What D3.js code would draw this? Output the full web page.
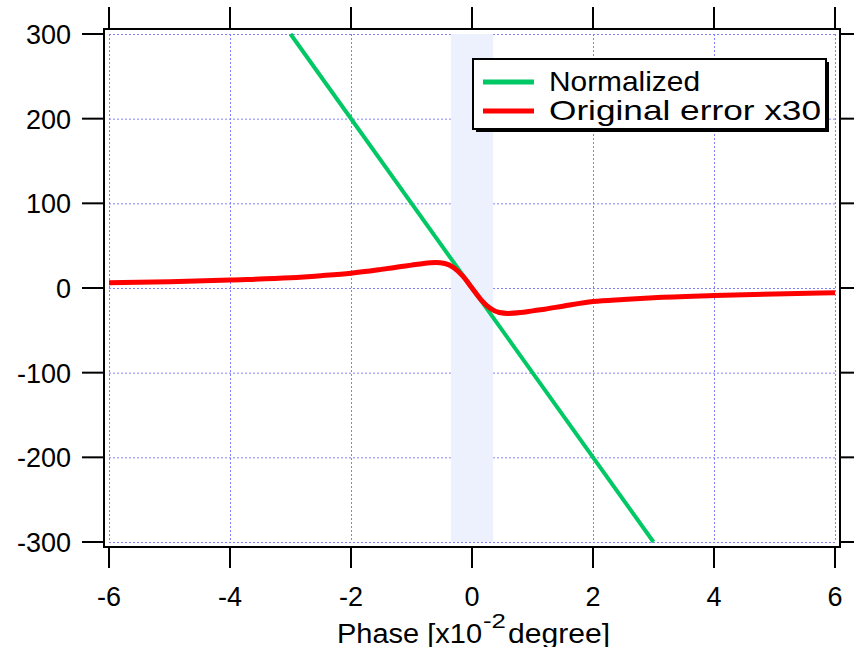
<!DOCTYPE html>
<meta charset="utf-8">
<style>
    body { margin: 0; background: #fff; }
    text { font-family: "Liberation Sans", Arial, sans-serif; fill: #000; }
</style>
<body>
<script src="https://d3js.org/d3.v7.min.js"></script>
<script>
    // data
    const xTicks = [-6, -4, -2, 0, 2, 4, 6];
    const yTicks = [-300, -200, -100, 0, 100, 200, 300];
    const bandX = [-0.35, 0.35];

    const normX = [-3, 3];
    const normY = [300, -300];

    const errX = [-6, -5, -4, -3, -2.5, -2, -1.5, -1.2, -1, -0.8, -0.6, -0.45, -0.3, -0.15, 0,
                  0.15, 0.3, 0.45, 0.6, 0.8, 1, 1.2, 1.5, 2, 2.5, 3, 4, 5, 6];
    const errY = [6.3, 7.5, 9.5, 12, 14.5, 17.5, 22, 25, 27, 29, 30, 29, 24, 14, 0,
                  -14, -24, -29, -30, -29, -27, -25, -21.5, -16, -13.5, -11.5, -9, -7, -5.5];

    const legendNames = ["Normalized", "Original error x30"];
    const legendColors = ["#00c864", "#ff0000"];

    const width = 854, height = 647;
    const frame = {left: 104, right: 840, top: 29, bottom: 547};

    const svg = d3.select("body").append("svg")
        .attr("width", width)
        .attr("height", height);

    const x = d3.scaleLinear().domain([-6, 6]).range([109, 835]);
    const y = d3.scaleLinear().domain([-300, 300]).range([542, 34]);

    // grid
    const grid = svg.append("g")
        .attr("stroke", "#8080ff")
        .attr("stroke-width", 1)
        .attr("stroke-dasharray", "2,2");
    grid.selectAll(".gx").data(xTicks).join("line")
        .attr("x1", d => x(d) + 0.5).attr("x2", d => x(d) + 0.5)
        .attr("y1", y(300)).attr("y2", y(-300));
    grid.selectAll(".gy").data(yTicks).join("line")
        .attr("x1", x(-6)).attr("x2", x(6))
        .attr("y1", d => y(d) + 0.5).attr("y2", d => y(d) + 0.5);

    // shaded band over the grid
    svg.append("rect")
        .attr("x", x(bandX[0]))
        .attr("width", x(bandX[1]) - x(bandX[0]))
        .attr("y", y(300))
        .attr("height", y(-300) - y(300))
        .attr("fill", "#edf1fd");

    // frame + ticks on all four sides
    const axes = svg.append("g").attr("stroke", "#000").attr("stroke-width", 2);
    axes.append("rect")
        .attr("x", frame.left).attr("y", frame.top)
        .attr("width", frame.right - frame.left)
        .attr("height", frame.bottom - frame.top)
        .attr("fill", "none");
    axes.selectAll(".tb").data(xTicks).join("line")
        .attr("x1", d => x(d)).attr("x2", d => x(d))
        .attr("y1", frame.bottom).attr("y2", frame.bottom + 21);
    axes.selectAll(".tt").data(xTicks).join("line")
        .attr("x1", d => x(d)).attr("x2", d => x(d))
        .attr("y1", frame.top).attr("y2", frame.top - 22);
    axes.selectAll(".tl").data(yTicks).join("line")
        .attr("x1", frame.left - 22).attr("x2", frame.left)
        .attr("y1", d => y(d)).attr("y2", d => y(d));
    axes.selectAll(".tr").data(yTicks).join("line")
        .attr("x1", frame.right).attr("x2", frame.right + 22)
        .attr("y1", d => y(d)).attr("y2", d => y(d));

    // tick labels
    svg.selectAll(".xl").data(xTicks).join("text")
        .attr("x", d => x(d))
        .attr("y", 606)
        .attr("text-anchor", "middle")
        .style("font-size", "27px")
        .text(d => d);
    svg.selectAll(".yl").data(yTicks).join("text")
        .attr("x", 71)
        .attr("y", d => y(d) + 10)
        .attr("text-anchor", "end")
        .style("font-size", "27px")
        .text(d => d);

    // axis title, with superscript
    svg.append("text").attr("x", 337).attr("y", 643)
        .style("font-size", "27px")
        .attr("textLength", 145).attr("lengthAdjust", "spacingAndGlyphs")
        .text("Phase [x10");
    svg.append("text").attr("x", 483).attr("y", 628)
        .style("font-size", "21px")
        .attr("textLength", 23).attr("lengthAdjust", "spacingAndGlyphs")
        .text("-2");
    svg.append("text").attr("x", 508).attr("y", 643)
        .style("font-size", "27px")
        .attr("textLength", 102).attr("lengthAdjust", "spacingAndGlyphs")
        .text("degree]");

    // traces
    const line = d3.line()
        .x(d => x(d[0]))
        .y(d => y(d[1]));

    svg.append("path")
        .datum(normX.map((v, i) => [v, normY[i]]))
        .attr("d", line)
        .attr("fill", "none")
        .attr("stroke", legendColors[0])
        .attr("stroke-width", 4);

    svg.append("path")
        .datum(errX.map((v, i) => [v, errY[i]]))
        .attr("d", line.curve(d3.curveMonotoneX))
        .attr("fill", "none")
        .attr("stroke", legendColors[1])
        .attr("stroke-width", 5)
        .attr("stroke-linejoin", "round");

    // legend with drop shadow
    const lg = svg.append("g");
    lg.append("rect")
        .attr("x", 476).attr("y", 62).attr("width", 353).attr("height", 70)
        .attr("fill", "#000");
    lg.append("rect")
        .attr("x", 473).attr("y", 59).attr("width", 353).attr("height", 70)
        .attr("fill", "#fff").attr("stroke", "#000").attr("stroke-width", 2);
    const rowsY = [82, 111];
    const textLen = [151, 272];
    lg.selectAll(".ll").data(legendNames).join("line")
        .attr("x1", 483).attr("x2", 534)
        .attr("y1", (d, i) => rowsY[i]).attr("y2", (d, i) => rowsY[i])
        .attr("stroke", (d, i) => legendColors[i])
        .attr("stroke-width", 5);
    lg.selectAll(".lt").data(legendNames).join("text")
        .attr("x", 549)
        .attr("y", (d, i) => rowsY[i] + 9)
        .style("font-size", "28px")
        .attr("textLength", (d, i) => textLen[i])
        .attr("lengthAdjust", "spacingAndGlyphs")
        .text(d => d);
</script>
</body>
